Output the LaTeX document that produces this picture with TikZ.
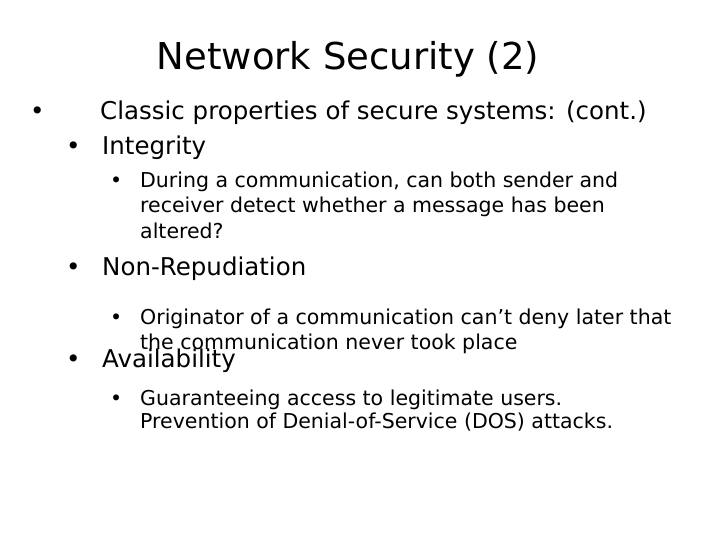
\documentclass[tikz,border=0pt]{standalone}
\usepackage{fontspec}
\setmainfont{DejaVu Sans}
\begin{document}
\begin{tikzpicture}[x=1pt,y=1pt,
  t/.style={anchor=base west,inner sep=0pt},
  l1/.style={t,font=\fontsize{24.5}{28}\selectfont},
  l3/.style={t,font=\fontsize{20.5}{25}\selectfont}]
\useasboundingbox (0,0) rectangle (720,-540);
\node[anchor=base,inner sep=0pt,font=\fontsize{37}{40}\selectfont] (title) at (348,-70) {Network Security (2)};
\node[l1] (b1) at (30,-120) {•};
\node[l1] (c1) at (100,-120) {Classic properties of secure systems: (cont.)};
\node[l1] (b2) at (66,-155) {•};
\node[l1] (c2) at (102,-155) {Integrity};
\node[l3] (b3) at (110,-188) {•};
\node[l3] (c3a) at (140,-188) {During a communication, can both sender and};
\node[l3] (c3b) at (140,-213) {receiver detect whether a message has been};
\node[l3] (c3c) at (140,-238) {altered?};
\node[l1] (b4) at (66,-275) {•};
\node[l1] (c4) at (102,-275) {Non-Repudiation};
\node[l3] (b5) at (110,-324) {•};
\node[l3] (c5a) at (140,-324) {Originator of a communication can’t deny later that};
\node[l3] (c5b) at (140,-349) {the communication never took place};
\node[l1] (b6) at (66,-367) {•};
\node[l1] (c6) at (102,-367) {Availability};
\node[l3] (b7) at (110,-405) {•};
\node[l3] (c7a) at (140,-405) {Guaranteeing access to legitimate users.};
\node[l3] (c7b) at (140,-428) {Prevention of Denial-of-Service (DOS) attacks.};
\end{tikzpicture}
\end{document}
